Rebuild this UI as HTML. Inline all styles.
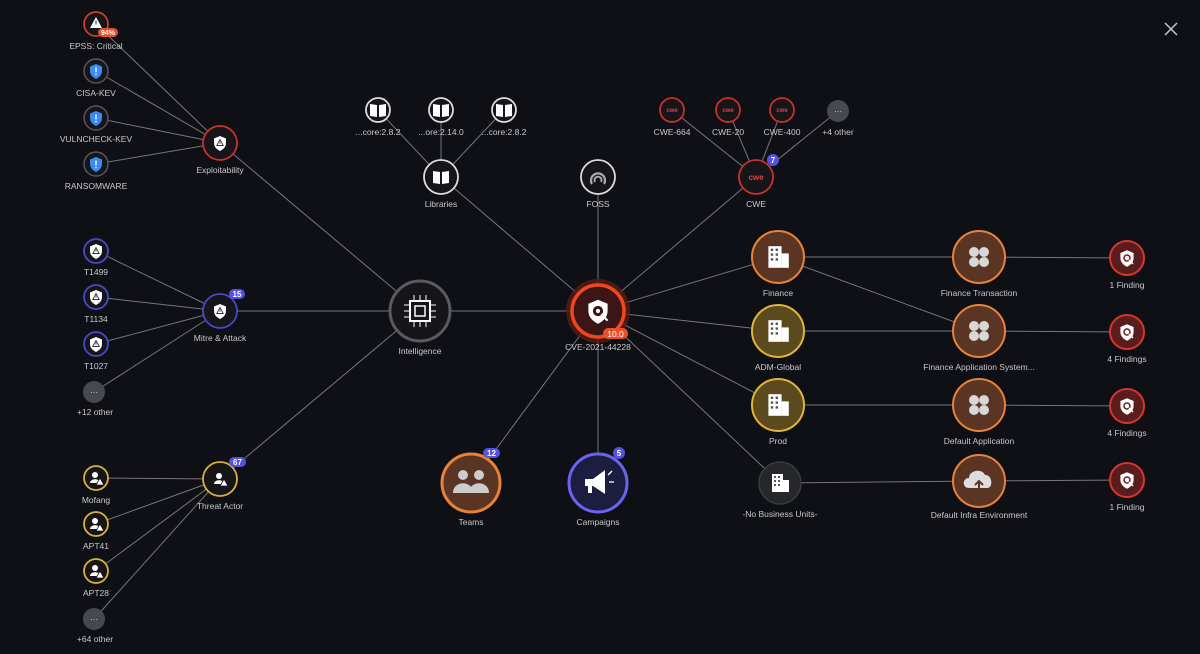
<!DOCTYPE html>
<html><head><meta charset="utf-8"><style>
html,body{margin:0;padding:0;background:#0f1015;}
svg{display:block}
text{font-family:"Liberation Sans",sans-serif;font-size:8.5px;fill:#c9c9cc;text-anchor:middle}
.b{font-size:8px;fill:#fff;font-weight:bold}
</style></head><body>
<svg width="1200" height="654" viewBox="0 0 1200 654" xmlns="http://www.w3.org/2000/svg">
<defs>
<path id="sh" d="M0,-7 L6,-4.5 L6,0 C6,4 3,6.5 0,8 C-3,6.5 -6,4 -6,0 L-6,-4.5 Z"/>
<g id="shw"><use href="#sh" fill="#fff"/><path d="M0,-3.5 L3.2,2.5 L-3.2,2.5 Z" fill="none" stroke="#333" stroke-width="0.9"/><line x1="0" y1="-1.5" x2="0" y2="0.8" stroke="#333" stroke-width="0.8"/></g>
<g id="shb"><use href="#sh" fill="#3d8af0"/><line x1="0" y1="-3.5" x2="0" y2="1.5" stroke="#fff" stroke-width="1.3"/><circle cx="0" cy="3.5" r="0.8" fill="#fff"/></g>
<g id="bld" transform="scale(1.2)"><rect x="-8" y="-9" width="11" height="18" fill="#fff"/><rect x="3" y="-3" width="6" height="12" fill="#fff"/><g fill="#555"><rect x="-6" y="-7" width="2" height="2"/><rect x="-2" y="-7" width="2" height="2"/><rect x="-6" y="-3" width="2" height="2"/><rect x="-2" y="-3" width="2" height="2"/><rect x="-6" y="1" width="2" height="2"/><rect x="-2" y="1" width="2" height="2"/></g></g>
<g id="bld2"><rect x="-8" y="-9" width="11" height="18" fill="#fff"/><rect x="3" y="-3" width="6" height="12" fill="#fff"/><g fill="#555"><rect x="-6" y="-7" width="2" height="2"/><rect x="-2" y="-7" width="2" height="2"/><rect x="-6" y="-3" width="2" height="2"/><rect x="-2" y="-3" width="2" height="2"/><rect x="-6" y="1" width="2" height="2"/><rect x="-2" y="1" width="2" height="2"/></g></g>
<g id="clv" fill="#d8d8d8"><circle cx="-5" cy="-5" r="5"/><circle cx="5" cy="-5" r="5"/><circle cx="-5" cy="5" r="5"/><circle cx="5" cy="5" r="5"/></g>
<g id="book"><path d="M-8,-6 L-1,-5 L-1,7 L-8,6 Z M8,-6 L1,-5 L1,7 L8,6 Z" fill="#fff"/></g>
<g id="fnd"><use href="#sh" fill="#fff" transform="scale(1.1)"/><circle cx="0" cy="0" r="3" fill="none" stroke="#6b1d1d" stroke-width="1.5"/><line x1="2" y1="2" x2="6" y2="6" stroke="#fff" stroke-width="1.5"/></g>
<g id="usr"><circle cx="-1" cy="-3" r="3" fill="#fff"/><path d="M-6,5 C-6,0 4,0 4,5 Z" fill="#fff"/><path d="M4,0 L8,7 L0,7 Z" fill="#fff" stroke="#16161a" stroke-width="0.8"/></g>
</defs>
<g stroke="#76767b" stroke-width="1" fill="none">
<line x1="96" y1="24" x2="220" y2="143"/><line x1="96" y1="71" x2="220" y2="143"/><line x1="96" y1="118" x2="220" y2="143"/><line x1="96" y1="164" x2="220" y2="143"/>
<line x1="96" y1="251" x2="220" y2="311"/><line x1="96" y1="297" x2="220" y2="311"/><line x1="96" y1="344" x2="220" y2="311"/><line x1="94" y1="392" x2="220" y2="311"/>
<line x1="96" y1="478" x2="220" y2="479"/><line x1="96" y1="524" x2="220" y2="479"/><line x1="96" y1="571" x2="220" y2="479"/><line x1="94" y1="619" x2="220" y2="479"/>
<line x1="220" y1="143" x2="420" y2="311"/><line x1="220" y1="311" x2="420" y2="311"/><line x1="220" y1="479" x2="420" y2="311"/>
<line x1="420" y1="311" x2="598" y2="311"/>
<line x1="378" y1="110" x2="441" y2="177"/><line x1="441" y1="110" x2="441" y2="177"/><line x1="504" y1="110" x2="441" y2="177"/>
<line x1="672" y1="110" x2="756" y2="177"/><line x1="728" y1="110" x2="756" y2="177"/><line x1="782" y1="110" x2="756" y2="177"/><line x1="838" y1="111" x2="756" y2="177"/>
<line x1="441" y1="177" x2="598" y2="311"/><line x1="598" y1="177" x2="598" y2="311"/><line x1="756" y1="177" x2="598" y2="311"/>
<line x1="598" y1="311" x2="471" y2="483"/><line x1="598" y1="311" x2="598" y2="483"/>
<line x1="598" y1="311" x2="778" y2="257"/><line x1="598" y1="311" x2="778" y2="331"/><line x1="598" y1="311" x2="778" y2="405"/><line x1="598" y1="311" x2="780" y2="483"/>
<line x1="778" y1="257" x2="979" y2="257"/><line x1="778" y1="257" x2="979" y2="331"/><line x1="778" y1="331" x2="979" y2="331"/><line x1="778" y1="405" x2="979" y2="405"/><line x1="780" y1="483" x2="979" y2="481"/>
<line x1="979" y1="257" x2="1127" y2="258"/><line x1="979" y1="331" x2="1127" y2="332"/><line x1="979" y1="405" x2="1127" y2="406"/><line x1="979" y1="481" x2="1127" y2="480"/>
</g>
<g stroke="#c8c8cc" stroke-width="1.5"><line x1="1165" y1="23" x2="1177" y2="35"/><line x1="1177" y1="23" x2="1165" y2="35"/></g>

<circle cx="96" cy="24" r="12" fill="#16161a" stroke="#e0482a" stroke-width="1.5"/><path d="M96,17 L102,28 L90,28 Z" fill="#fff"/><line x1="96" y1="20.5" x2="96" y2="24.5" stroke="#222" stroke-width="1"/>
<rect x="98" y="28" width="20" height="9" rx="4.5" fill="#e8502a"/><text class="b" x="108" y="35" style="font-size:7px">94%</text>
<text x="96" y="49">EPSS: Critical</text>
<g><circle cx="96" cy="71" r="12" fill="#16161a" stroke="#55565c" stroke-width="1.5"/><use href="#shb" x="96" y="71"/><text x="96" y="96">CISA-KEV</text></g>
<g><circle cx="96" cy="118" r="12" fill="#16161a" stroke="#55565c" stroke-width="1.5"/><use href="#shb" x="96" y="118"/><text x="96" y="142">VULNCHECK-KEV</text></g>
<g><circle cx="96" cy="164" r="12" fill="#16161a" stroke="#55565c" stroke-width="1.5"/><use href="#shb" x="96" y="164"/><text x="96" y="189">RANSOMWARE</text></g>
<circle cx="220" cy="143" r="17" fill="#16161a" stroke="#c8302e" stroke-width="1.8"/><use href="#shw" x="220" y="143"/><text x="220" y="173">Exploitability</text>

<g><circle cx="96" cy="251" r="12" fill="#16161a" stroke="#4b48c8" stroke-width="1.8"/><use href="#shw" x="96" y="251"/><text x="96" y="275">T1499</text></g>
<g><circle cx="96" cy="297" r="12" fill="#16161a" stroke="#4b48c8" stroke-width="1.8"/><use href="#shw" x="96" y="297"/><text x="96" y="322">T1134</text></g>
<g><circle cx="96" cy="344" r="12" fill="#16161a" stroke="#4b48c8" stroke-width="1.8"/><use href="#shw" x="96" y="344"/><text x="96" y="369">T1027</text></g>
<circle cx="94" cy="392" r="11" fill="#48494f"/><text x="94" y="395" style="font-size:8px;fill:#ddd">···</text><text x="95" y="415">+12 other</text>
<circle cx="220" cy="311" r="17" fill="#16161a" stroke="#4b48c8" stroke-width="1.8"/><use href="#shw" x="220" y="311"/><text x="220" y="341">Mitre &amp; Attack</text>
<rect x="229" y="289" width="16" height="10" rx="5" fill="#5552e0"/><text class="b" x="237" y="297">15</text>

<g><circle cx="96" cy="478" r="12" fill="#16161a" stroke="#d8b23a" stroke-width="1.8"/><use href="#usr" x="96" y="478"/><text x="96" y="503">Mofang</text></g>
<g><circle cx="96" cy="524" r="12" fill="#16161a" stroke="#d8b23a" stroke-width="1.8"/><use href="#usr" x="96" y="524"/><text x="96" y="549">APT41</text></g>
<g><circle cx="96" cy="571" r="12" fill="#16161a" stroke="#d8b23a" stroke-width="1.8"/><use href="#usr" x="96" y="571"/><text x="96" y="596">APT28</text></g>
<circle cx="94" cy="619" r="11" fill="#48494f"/><text x="94" y="622" style="font-size:8px;fill:#ddd">···</text><text x="95" y="642">+64 other</text>
<circle cx="220" cy="479" r="17" fill="#16161a" stroke="#d8b23a" stroke-width="1.8"/><use href="#usr" x="220" y="479"/><text x="220" y="509">Threat Actor</text>
<rect x="229" y="457" width="17" height="10" rx="5" fill="#5552e0"/><text class="b" x="237.5" y="465">67</text>

<circle cx="420" cy="311" r="30" fill="#16161a" stroke="#5a5b60" stroke-width="3"/>
<rect x="410" y="301" width="20" height="20" fill="none" stroke="#fff" stroke-width="2"/><rect x="415" y="306" width="10" height="10" fill="none" stroke="#fff" stroke-width="1.5"/>
<g stroke="#fff" stroke-width="1"><line x1="404" y1="305" x2="410" y2="305"/><line x1="404" y1="311" x2="410" y2="311"/><line x1="404" y1="317" x2="410" y2="317"/><line x1="430" y1="305" x2="436" y2="305"/><line x1="430" y1="311" x2="436" y2="311"/><line x1="430" y1="317" x2="436" y2="317"/><line x1="414" y1="295" x2="414" y2="301"/><line x1="420" y1="295" x2="420" y2="301"/><line x1="426" y1="295" x2="426" y2="301"/><line x1="414" y1="321" x2="414" y2="327"/><line x1="420" y1="321" x2="420" y2="327"/><line x1="426" y1="321" x2="426" y2="327"/></g>
<text x="420" y="354">Intelligence</text>

<g><circle cx="378" cy="110" r="12" fill="#16161a" stroke="#ddd" stroke-width="1.8"/><use href="#book" x="378" y="110"/><text x="378" y="135">...core:2.8.2</text></g>
<g><circle cx="441" cy="110" r="12" fill="#16161a" stroke="#ddd" stroke-width="1.8"/><use href="#book" x="441" y="110"/><text x="441" y="135">...ore:2.14.0</text></g>
<g><circle cx="504" cy="110" r="12" fill="#16161a" stroke="#ddd" stroke-width="1.8"/><use href="#book" x="504" y="110"/><text x="504" y="135">...core:2.8.2</text></g>
<circle cx="441" cy="177" r="17" fill="#16161a" stroke="#ddd" stroke-width="1.8"/><use href="#book" x="441" y="177"/><text x="441" y="207">Libraries</text>

<circle cx="598" cy="177" r="17" fill="#16161a" stroke="#ddd" stroke-width="1.8"/>
<path d="M592,184 A7,7 0 1 1 604,184" fill="none" stroke="#aaa" stroke-width="2.2"/><path d="M595,182 A3.5,3.5 0 1 1 601,182" fill="none" stroke="#aaa" stroke-width="2"/>
<text x="598" y="207">FOSS</text>

<g><circle cx="672" cy="110" r="12" fill="#16161a" stroke="#c8302e" stroke-width="1.8"/><text x="672" y="112" style="font-size:6px;fill:#e04040;font-weight:bold">cwe</text><text x="672" y="135">CWE-664</text></g>
<g><circle cx="728" cy="110" r="12" fill="#16161a" stroke="#c8302e" stroke-width="1.8"/><text x="728" y="112" style="font-size:6px;fill:#e04040;font-weight:bold">cwe</text><text x="728" y="135">CWE-20</text></g>
<g><circle cx="782" cy="110" r="12" fill="#16161a" stroke="#c8302e" stroke-width="1.8"/><text x="782" y="112" style="font-size:6px;fill:#e04040;font-weight:bold">cwe</text><text x="782" y="135">CWE-400</text></g>
<circle cx="838" cy="111" r="11" fill="#48494f"/><text x="838" y="114" style="font-size:8px;fill:#ddd">···</text><text x="838" y="135">+4 other</text>
<circle cx="756" cy="177" r="17" fill="#16161a" stroke="#c8302e" stroke-width="1.8"/><text x="756" y="180" style="font-size:8px;fill:#e04040;font-weight:bold">cwe</text><text x="756" y="207">CWE</text>
<circle cx="773" cy="160" r="6" fill="#5552e0"/><text class="b" x="773" y="163">7</text>

<circle cx="598" cy="311" r="32" fill="#5a1c14" opacity="0.8"/>
<circle cx="598" cy="311" r="26" fill="#3c1616" stroke="#f0481e" stroke-width="3.5"/>
<g transform="translate(598 311) scale(1.6)"><use href="#sh" fill="#fff"/><circle cx="0" cy="0" r="3.2" fill="#3c1616"/><circle cx="0" cy="0" r="1.3" fill="#fff"/><line x1="2" y1="2" x2="6" y2="6" stroke="#fff" stroke-width="1.3"/></g>
<rect x="603" y="328" width="25" height="11" rx="5.5" fill="#e8502a"/><text class="b" x="615.5" y="337" style="font-size:8.5px;font-weight:normal">10.0</text>
<text x="598" y="350">CVE-2021-44228</text>

<circle cx="471" cy="483" r="29" fill="#5a3524" stroke="#e8823a" stroke-width="3"/>
<g fill="#ccc"><circle cx="463" cy="475" r="5"/><circle cx="479" cy="475" r="5"/><path d="M453,493 C453,480 473,480 473,493 Z"/><path d="M469,493 C469,480 489,480 489,493 Z"/></g>
<text x="471" y="525">Teams</text>
<rect x="483" y="448" width="17" height="10" rx="5" fill="#5552e0"/><text class="b" x="491.5" y="456">12</text>
<circle cx="598" cy="483" r="29" fill="#1d1d40" stroke="#6c63f0" stroke-width="3"/>
<path d="M585,479 L593,479 L605,470 L605,494 L593,486 L585,486 Z" fill="#fff"/><rect x="588" y="486" width="4" height="7" fill="#fff"/>
<g stroke="#fff" stroke-width="1.3"><line x1="608" y1="475" x2="612" y2="471"/><line x1="609" y1="482" x2="614" y2="482"/></g>
<text x="598" y="525">Campaigns</text>
<circle cx="619" cy="453" r="6" fill="#5552e0"/><text class="b" x="619" y="456">5</text>

<circle cx="778" cy="257" r="26" fill="#5a3524" stroke="#e8823a" stroke-width="2"/><use href="#bld" x="778" y="257"/><text x="778" y="296">Finance</text>
<circle cx="778" cy="331" r="26" fill="#5a4a1e" stroke="#e0b53c" stroke-width="2"/><use href="#bld" x="778" y="331"/><text x="778" y="370">ADM-Global</text>
<circle cx="778" cy="405" r="26" fill="#5a4a1e" stroke="#e0b53c" stroke-width="2"/><use href="#bld" x="778" y="405"/><text x="778" y="444">Prod</text>
<circle cx="780" cy="483" r="21" fill="#26272b" stroke="#3a3b40" stroke-width="1.5"/><use href="#bld2" x="780" y="483"/><text x="780" y="517">-No Business Units-</text>

<circle cx="979" cy="257" r="26" fill="#5a3524" stroke="#e8823a" stroke-width="2"/><use href="#clv" x="979" y="257"/><text x="979" y="296">Finance Transaction</text>
<circle cx="979" cy="331" r="26" fill="#5a3524" stroke="#e8823a" stroke-width="2"/><use href="#clv" x="979" y="331"/><text x="979" y="370">Finance Application System...</text>
<circle cx="979" cy="405" r="26" fill="#5a3524" stroke="#e8823a" stroke-width="2"/><use href="#clv" x="979" y="405"/><text x="979" y="444">Default Application</text>
<circle cx="979" cy="481" r="26" fill="#5a3524" stroke="#e8823a" stroke-width="2"/>
<path d="M969,488 C962,488 962,478 969,478 C969,470 982,468 985,475 C992,474 994,488 987,488 Z" fill="#ddd"/><path d="M979,492 L979,481 M975,485 L979,481 L983,485" stroke="#5a3524" stroke-width="2" fill="none"/>
<text x="979" y="518">Default Infra Environment</text>

<g><circle cx="1127" cy="258" r="17" fill="#5a1c1c" stroke="#d8352e" stroke-width="2"/><use href="#fnd" x="1127" y="258"/><text x="1127" y="288">1 Finding</text></g>
<g><circle cx="1127" cy="332" r="17" fill="#5a1c1c" stroke="#d8352e" stroke-width="2"/><use href="#fnd" x="1127" y="332"/><text x="1127" y="362">4 Findings</text></g>
<g><circle cx="1127" cy="406" r="17" fill="#5a1c1c" stroke="#d8352e" stroke-width="2"/><use href="#fnd" x="1127" y="406"/><text x="1127" y="436">4 Findings</text></g>
<g><circle cx="1127" cy="480" r="17" fill="#5a1c1c" stroke="#d8352e" stroke-width="2"/><use href="#fnd" x="1127" y="480"/><text x="1127" y="510">1 Finding</text></g>
</svg>
</body></html>
